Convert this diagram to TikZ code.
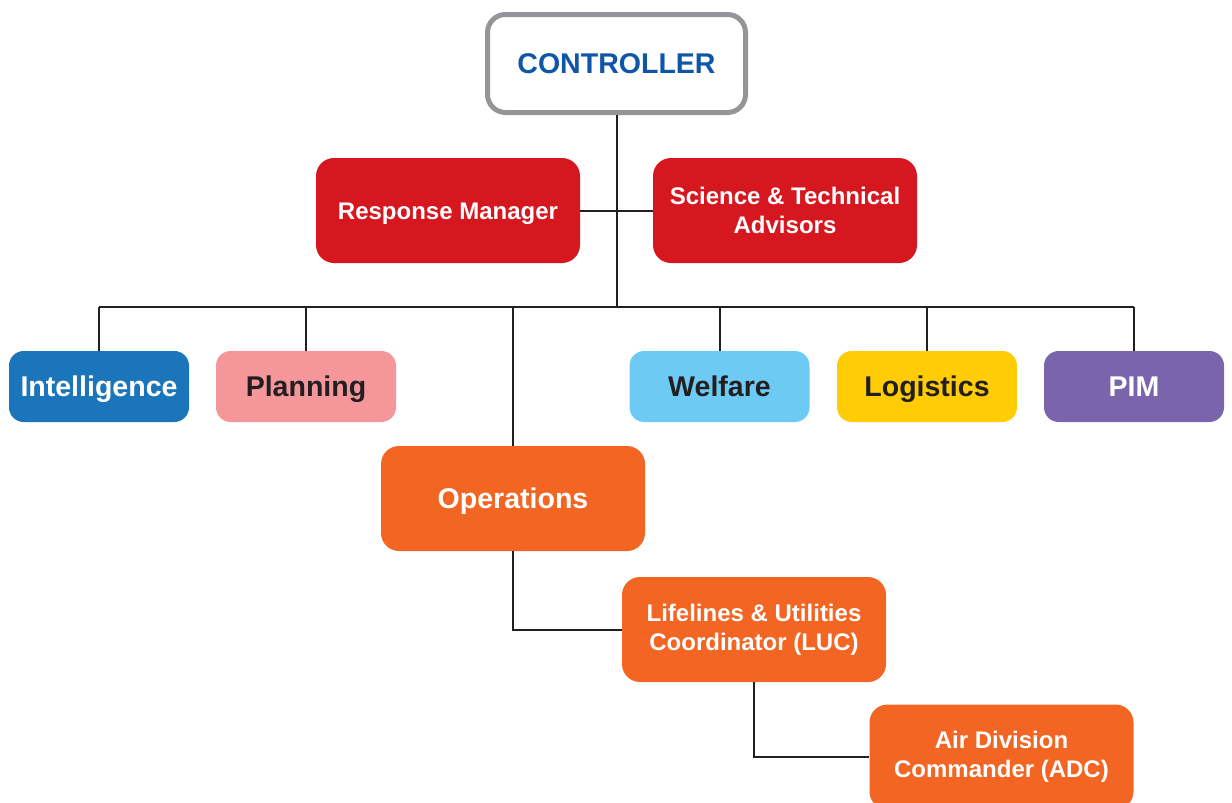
\documentclass[tikz,border=0pt]{standalone}
\usepackage{fontspec}
\setmainfont{Liberation Sans}
\definecolor{ctrlgray}{HTML}{939598}
\definecolor{ctrlblue}{HTML}{0F56A8}
\definecolor{redbox}{HTML}{D7171F}
\definecolor{bluebox}{HTML}{1B75BB}
\definecolor{pinkbox}{HTML}{F4969A}
\definecolor{skybox}{HTML}{6DCAF2}
\definecolor{yellowbox}{HTML}{FFCC05}
\definecolor{purplebox}{HTML}{7A65AC}
\definecolor{orangebox}{HTML}{F26522}
\definecolor{ink}{HTML}{231F20}
\tikzset{
  bigbox/.style={rounded corners=13.5pt, minimum width=198pt, minimum height=78.75pt, inner sep=0pt, align=center, text=white, font=\bfseries\fontsize{18}{21.75}\selectfont},
  bigone/.style={text height=15.3pt, text depth=0pt},
  smallone/.style={text height=12.9pt, text depth=0pt},
  rowbox/.style={rounded corners=11pt, minimum width=135pt, minimum height=53.25pt, inner sep=0pt, align=center, text height=15.3pt, text depth=0pt, font=\bfseries\fontsize{21.4}{25}\selectfont},
  link/.style={draw=ink, line width=1.5pt}
}
\begin{document}
\begin{tikzpicture}[x=0.75pt,y=-0.75pt]
\useasboundingbox (0,0) rectangle (1232,803);
% controller
\node[draw=ctrlgray, line width=3.75pt, fill=white, rounded corners=13.5pt, minimum width=193.5pt, minimum height=73.5pt, inner sep=0pt, bigone, text=ctrlblue, font=\bfseries\fontsize{21.4}{25}\selectfont] (ctrl) at (616.5,63.5) {CONTROLLER};
% red boxes
\node[bigbox, smallone, fill=redbox] (rm) at (448,210.5) {Response Manager};
\node[bigbox, fill=redbox] (sci) at (785,210.5) {Science \& Technical\\Advisors};
% row
\node[rowbox, fill=bluebox, text=white] (intel) at (99,386.5) {Intelligence};
\node[rowbox, fill=pinkbox, text=ink] (plan) at (306,386.5) {Planning};
\node[rowbox, fill=skybox, text=ink] (welf) at (719.5,386.5) {Welfare};
\node[rowbox, fill=yellowbox, text=ink] (logi) at (927,386.5) {Logistics};
\node[rowbox, fill=purplebox, text=white] (pim) at (1134,386.5) {PIM};
% operations chain
\node[bigbox, bigone, fill=orangebox, font=\bfseries\fontsize{21.4}{25}\selectfont] (ops) at (513,498.5) {Operations};
\node[bigbox, fill=orangebox] (luc) at (754,629.5) {Lifelines \& Utilities\\Coordinator (LUC)};
\node[bigbox, fill=orangebox] (adc) at (1001.5,757) {Air Division\\Commander (ADC)};
% connectors
\coordinate (bus) at (616.5,307);
\draw[link] (ctrl.south) -- (bus);
\draw[link] (rm.east) -- (sci.west);
\draw[link] (intel.north |- bus) -- (pim.north |- bus);
\draw[link] (intel.north) -- (intel.north |- bus);
\draw[link] (plan.north) -- (plan.north |- bus);
\draw[link] (ops.north) -- (ops.north |- bus);
\draw[link] (welf.north) -- (welf.north |- bus);
\draw[link] (logi.north) -- (logi.north |- bus);
\draw[link] (pim.north) -- (pim.north |- bus);
\draw[link] (ops.south) |- (luc.west);
\draw[link] (luc.south) |- (adc.west);
\end{tikzpicture}
\end{document}
